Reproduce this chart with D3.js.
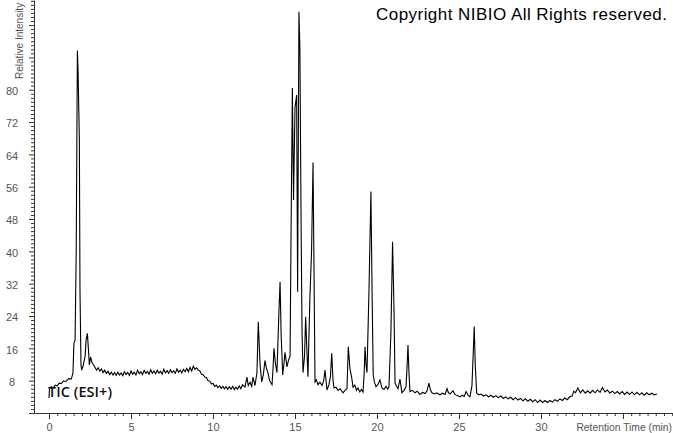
<!DOCTYPE html>
<html>
<head>
<meta charset="utf-8">
<script src="https://cdn.jsdelivr.net/npm/d3@7"></script>
<style>
  body { margin: 0; background: #fff; }
  svg { display: block; }
</style>
</head>
<body>
<div id="chart"></div>
<script>
const width = 673;
const height = 433;

// TIC trace: [retention time (min), relative intensity]
const tic = [
  [0.00, 3.7], [0.03, 6.0], [0.14, 6.5], [0.25, 6.2], [0.37, 6.9], [0.50, 6.7], [0.62, 7.4], [0.75, 7.3],
  [0.88, 7.9], [1.04, 7.8], [1.20, 8.5], [1.36, 8.4], [1.46, 9.9], [1.52, 17.3], [1.59, 18.0], [1.66, 40.0],
  [1.73, 89.7], [1.77, 85.0], [1.85, 68.0], [1.89, 30.0], [1.95, 12.0], [1.99, 10.6], [2.07, 11.5], [2.20, 14.0],
  [2.26, 18.0], [2.34, 19.7], [2.40, 16.0], [2.46, 11.9], [2.54, 13.9], [2.62, 12.5], [2.70, 12.0], [2.80, 11.3],
  [2.90, 10.6], [3.00, 11.2], [3.10, 10.4], [3.20, 10.9], [3.30, 10.0], [3.40, 10.6], [3.50, 9.8], [3.60, 10.3],
  [3.70, 9.5], [3.80, 10.1], [3.90, 9.4], [4.00, 10.0], [4.10, 9.3], [4.20, 10.1], [4.30, 9.4], [4.40, 9.9],
  [4.50, 9.2], [4.60, 10.2], [4.70, 9.5], [4.80, 10.0], [4.90, 9.3], [5.00, 10.4], [5.10, 9.6], [5.20, 10.1],
  [5.30, 9.4], [5.40, 10.6], [5.50, 9.7], [5.60, 10.2], [5.70, 9.5], [5.80, 10.5], [5.90, 9.8], [6.00, 10.3],
  [6.10, 9.6], [6.20, 10.7], [6.30, 9.8], [6.40, 10.4], [6.50, 9.7], [6.60, 10.6], [6.70, 9.9], [6.80, 10.3],
  [6.90, 9.6], [7.00, 10.8], [7.10, 9.9], [7.20, 10.5], [7.30, 9.8], [7.40, 10.7], [7.50, 10.0], [7.60, 10.4],
  [7.70, 9.8], [7.80, 10.9], [7.90, 10.1], [8.00, 10.6], [8.10, 9.9], [8.20, 10.8], [8.30, 10.2], [8.40, 11.0],
  [8.50, 10.2], [8.60, 11.3], [8.70, 10.4], [8.80, 11.6], [8.90, 10.8], [9.00, 11.2], [9.10, 10.6], [9.20, 10.4],
  [9.30, 9.6], [9.40, 9.5], [9.50, 8.9], [9.60, 8.8], [9.70, 8.0], [9.80, 7.9], [9.90, 7.2], [10.00, 7.3],
  [10.10, 6.6], [10.20, 6.9], [10.30, 6.3], [10.40, 6.7], [10.50, 6.1], [10.60, 6.6], [10.70, 6.0], [10.80, 6.5],
  [10.90, 5.9], [11.00, 6.5], [11.10, 5.9], [11.20, 6.6], [11.30, 5.8], [11.40, 6.4], [11.50, 5.9], [11.60, 6.7],
  [11.70, 6.0], [11.80, 7.0], [11.95, 6.4], [12.07, 8.9], [12.15, 6.8], [12.26, 7.6], [12.36, 6.6], [12.44, 8.9],
  [12.56, 6.8], [12.68, 10.0], [12.76, 22.6], [12.87, 12.0], [12.97, 7.7], [13.07, 9.5], [13.17, 13.0], [13.26, 11.0],
  [13.35, 10.0], [13.45, 8.0], [13.60, 7.0], [13.66, 11.0], [13.72, 16.0], [13.80, 12.5], [13.90, 10.0], [14.02, 25.0],
  [14.09, 32.5], [14.15, 20.0], [14.25, 9.4], [14.32, 12.0], [14.39, 15.0], [14.51, 11.4], [14.60, 13.0], [14.70, 14.0],
  [14.76, 45.0], [14.84, 80.4], [14.91, 52.7], [15.00, 75.5], [15.10, 78.7], [15.16, 30.0], [15.24, 99.3], [15.30, 90.0],
  [15.37, 47.8], [15.43, 20.0], [15.49, 10.0], [15.58, 14.0], [15.65, 23.8], [15.73, 15.0], [15.79, 9.0], [15.91, 28.7],
  [16.01, 40.0], [16.10, 62.0], [16.16, 35.0], [16.22, 7.7], [16.30, 8.2], [16.40, 7.0], [16.52, 7.6], [16.65, 6.8],
  [16.75, 8.0], [16.83, 10.6], [16.95, 5.7], [17.07, 7.0], [17.16, 9.0], [17.24, 14.8], [17.32, 8.0], [17.38, 6.2],
  [17.50, 6.4], [17.62, 5.6], [17.75, 6.0], [17.93, 5.0], [18.05, 5.6], [18.17, 6.0], [18.25, 16.4], [18.35, 11.0],
  [18.46, 8.7], [18.54, 6.4], [18.65, 6.9], [18.75, 5.6], [18.84, 6.2], [18.95, 5.2], [19.05, 5.8], [19.15, 5.2],
  [19.22, 10.0], [19.27, 16.4], [19.33, 12.0], [19.39, 10.0], [19.51, 30.0], [19.63, 54.8], [19.70, 30.0], [19.77, 9.4],
  [19.85, 7.5], [19.94, 6.5], [20.05, 7.0], [20.18, 8.2], [20.30, 6.2], [20.43, 5.8], [20.55, 6.6], [20.65, 5.9],
  [20.73, 6.5], [20.85, 20.0], [20.95, 42.4], [21.04, 25.0], [21.10, 7.4], [21.20, 6.6], [21.28, 6.0], [21.40, 8.4],
  [21.52, 5.0], [21.65, 5.6], [21.77, 6.5], [21.84, 12.0], [21.89, 16.8], [21.95, 10.0], [22.01, 5.3], [22.15, 5.6],
  [22.32, 5.0], [22.45, 5.4], [22.62, 4.6], [22.78, 5.1], [22.93, 4.8], [23.05, 5.5], [23.17, 7.4], [23.25, 5.8],
  [23.35, 5.0], [23.50, 4.7], [23.65, 5.0], [23.84, 4.5], [24.00, 4.9], [24.15, 4.6], [24.27, 6.0], [24.36, 5.0],
  [24.45, 4.7], [24.63, 5.5], [24.75, 4.6], [24.90, 4.3], [25.06, 4.0], [25.20, 4.4], [25.32, 4.1], [25.43, 5.3],
  [25.55, 4.4], [25.67, 4.0], [25.79, 6.7], [25.87, 15.0], [25.93, 21.4], [25.99, 12.0], [26.08, 4.9], [26.20, 4.5],
  [26.35, 4.7], [26.50, 4.2], [26.65, 4.5], [26.80, 4.0], [26.95, 4.4], [27.10, 3.9], [27.25, 4.3], [27.40, 3.8],
  [27.55, 4.2], [27.70, 3.6], [27.85, 4.0], [28.00, 3.5], [28.15, 3.9], [28.30, 3.3], [28.45, 3.8], [28.60, 3.2],
  [28.75, 3.6], [28.90, 3.0], [29.05, 3.5], [29.20, 2.9], [29.35, 3.4], [29.50, 2.8], [29.65, 3.3], [29.80, 2.6],
  [29.95, 3.2], [30.10, 2.6], [30.25, 3.1], [30.40, 2.6], [30.55, 3.1], [30.70, 2.7], [30.85, 3.3], [31.00, 2.9],
  [31.15, 3.5], [31.30, 3.1], [31.45, 3.7], [31.60, 3.3], [31.75, 4.0], [31.90, 4.2], [32.00, 5.4], [32.10, 5.0],
  [32.25, 6.2], [32.40, 5.0], [32.55, 5.7], [32.70, 4.9], [32.85, 5.5], [33.00, 4.9], [33.15, 5.6], [33.30, 5.0],
  [33.45, 5.7], [33.60, 5.1], [33.75, 6.3], [33.90, 5.2], [34.05, 5.7], [34.20, 4.9], [34.35, 5.4], [34.50, 4.8],
  [34.65, 5.3], [34.80, 4.7], [34.95, 5.3], [35.10, 4.6], [35.25, 5.2], [35.40, 4.6], [35.55, 5.2], [35.70, 4.5],
  [35.85, 5.1], [36.00, 4.5], [36.15, 5.0], [36.30, 4.4], [36.45, 5.0], [36.60, 4.5], [36.75, 4.9], [36.90, 4.5],
  [37.07, 4.7]
];

const xMajorTicks = [0, 5, 10, 15, 20, 25, 30, 35];
const xLabelTicks = [0, 5, 10, 15, 20, 25, 30];
const xMinorStep = 0.5;
const yLabelTicks = [8, 16, 24, 32, 40, 48, 56, 64, 72, 80];
const yMinorStep = 1;

const xTitle = "Retention Time (min)";
const yTitle = "Relative Intensity";
const traceLabel = "TIC (ESI+)";
const copyright = "Copyright NIBIO All Rights reserved.";

const svg = d3.select("#chart")
  .append("svg")
  .attr("width", width)
  .attr("height", height);

const plot = { left: 34, right: 673, top: 0, bottom: 413 };

const x = d3.scaleLinear().domain([-0.915, 38.05]).range([plot.left, plot.right]);
const y = d3.scaleLinear().domain([0, 102.2]).range([plot.bottom, plot.top]);

const axisColor = "#333";
const labelColor = "#555";
const fontFamily = "'Liberation Sans', Arial, sans-serif";

// trace
const line = d3.line()
  .x(d => x(d[0]))
  .y(d => y(d[1]));

svg.append("path")
  .datum(tic)
  .attr("fill", "none")
  .attr("stroke", "#000")
  .attr("stroke-width", 1.1)
  .attr("d", line);

// x axis: minor ticks, then labelled ticks
const xMinor = d3.range(0, 38.01, xMinorStep).filter(t => t % 5 !== 0);

svg.append("g")
  .attr("transform", `translate(0,${plot.bottom})`)
  .call(d3.axisBottom(x).tickValues(xMinor).tickSize(3).tickFormat(""))
  .call(g => g.select(".domain").remove())
  .selectAll("line").attr("stroke", axisColor);

const gx = svg.append("g")
  .attr("transform", `translate(0,${plot.bottom})`)
  .call(d3.axisBottom(x).tickValues(xMajorTicks).tickSize(6).tickPadding(4).tickSizeOuter(0)
    .tickFormat(t => xLabelTicks.includes(t) ? t : ""));

gx.select(".domain").attr("stroke", axisColor);
gx.selectAll(".tick line").attr("stroke", axisColor);
gx.selectAll("text")
  .attr("fill", labelColor)
  .style("font-family", fontFamily)
  .style("font-size", "11px");

// y axis
const yMinor = d3.range(0, 102.01, yMinorStep).filter(v => v % 8 !== 0);

svg.append("g")
  .attr("transform", `translate(${plot.left},0)`)
  .call(d3.axisLeft(y).tickValues(yMinor).tickSize(3).tickFormat(""))
  .call(g => g.select(".domain").remove())
  .selectAll("line").attr("stroke", axisColor);

const gy = svg.append("g")
  .attr("transform", `translate(${plot.left},0)`)
  .call(d3.axisLeft(y).tickValues([0, ...yLabelTicks, 88, 96]).tickSize(5).tickSizeOuter(0)
    .tickFormat(v => yLabelTicks.includes(v) ? v : ""));

gy.select(".domain").attr("stroke", axisColor);
gy.selectAll(".tick line").attr("stroke", axisColor);
gy.selectAll("text")
  .attr("x", -22)
  .attr("dy", "0.45em")
  .attr("text-anchor", "middle")
  .attr("fill", labelColor)
  .style("font-family", fontFamily)
  .style("font-size", "11px");

// titles
svg.append("text")
  .attr("x", plot.right - 1)
  .attr("y", 431)
  .attr("text-anchor", "end")
  .attr("fill", labelColor)
  .style("font-family", fontFamily)
  .style("font-size", "10.3px")
  .text(xTitle);

svg.append("text")
  .attr("transform", "translate(23,79) rotate(-90)")
  .attr("fill", labelColor)
  .style("font-family", fontFamily)
  .style("font-size", "10px")
  .text(yTitle);

svg.append("text")
  .attr("x", 48)
  .attr("y", 397)
  .attr("fill", "#111")
  .style("font-family", "'Open Sans', sans-serif")
  .style("font-weight", 600)
  .style("font-size", "14.5px")
  .attr("textLength", 64)
  .text(traceLabel);

svg.append("text")
  .attr("x", 376)
  .attr("y", 20)
  .attr("fill", "#000")
  .style("font-family", fontFamily)
  .style("font-size", "17px")
  .attr("textLength", 291)
  .text(copyright);
</script>
</body>
</html>
